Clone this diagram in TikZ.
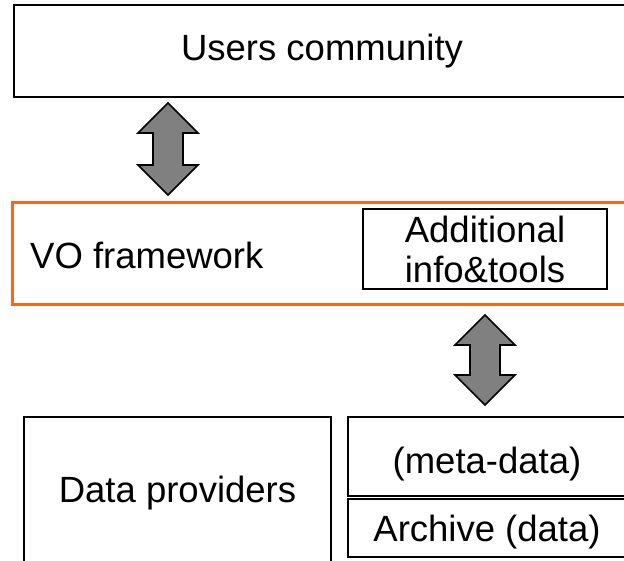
\documentclass[tikz,border=0pt]{standalone}
\usepackage{fontspec}
\setmainfont{Liberation Sans}
\usepackage{tikz}
\usetikzlibrary{positioning, calc}
\definecolor{voorange}{RGB}{240, 105, 40}
\definecolor{arrowgray}{RGB}{128, 128, 128}

\tikzset{
  layerbox/.style={draw=black, line width=1.3pt, inner sep=0pt, font=\fontsize{36.5}{40}\selectfont},
  voframe/.style={draw=voorange, line width=3pt},
  blockarrow/.style={draw=black, line width=1.6pt, fill=arrowgray, line join=miter}
}

% vertical double block arrow: centre x, tip top, tip bottom
\newcommand{\layerarrow}[3]{%
  \draw[blockarrow] (#1,#2) -- ++(30,30) -- ++(-15,0) -- (#1+15,#3-30) -- ++(15,0)
    -- (#1,#3) -- ++(-30,-30) -- ++(15,0) -- (#1-15,#2+30) -- ++(-15,0) -- cycle;}

\begin{document}
\begin{tikzpicture}[x=1pt, y=-1pt]
  \clip (0,0) rectangle (624,560);

  % Users
  \node[layerbox, minimum width=616, minimum height=92] (users) at (322,51) {Users community};
  \layerarrow{168}{103}{195}

  % VO framework layer
  \draw[voframe] (12,202) rectangle (640,304);
  \node[font=\fontsize{36.5}{40}\selectfont, anchor=west, inner sep=0pt] (vo) at (30,255) {VO framework};
  \node[layerbox, minimum width=244, minimum height=80, align=center] (extra) at (485,249)
    {Additional\\info\&tools};
  \layerarrow{485}{315}{405}

  % Providers
  \node[layerbox, minimum width=307, minimum height=146, text height=32pt] (providers) at (177.5,490) {Data providers};
  \node[layerbox, minimum width=278, minimum height=79, text height=42pt] (meta) at (487,456.5) {(meta-data)};
  \node[layerbox, minimum width=278, minimum height=58, text height=34pt] (archive) at (487,528) {Archive (data)};
\end{tikzpicture}
\end{document}
